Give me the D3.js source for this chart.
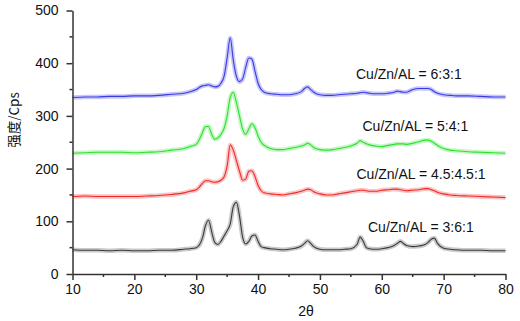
<!DOCTYPE html>
<html>
<head>
<meta charset="utf-8">
<script src="https://cdn.jsdelivr.net/npm/d3@7"></script>
<style>
  body { margin: 0; background: #fff; }
  text { font-family: "Liberation Sans", Arial, sans-serif; fill: #111; }
</style>
</head>
<body>
<div id="chart"></div>
<script>
// 2theta positions (degrees), shared by all four patterns
const twoTheta = [10,12,14,16,18,20,22,24,26,28,29,30,30.5,31,31.5,32,32.5,33,33.5,34,34.5,35,35.5,36,36.5,37,37.5,38,38.5,39,39.5,40,40.5,41,42,43,44,45,46,47,47.5,48,48.5,49,50,51,52,53,54,55,56,56.5,57,57.5,58,59,60,61,62,62.5,63,63.5,64,65,66,67,67.5,68,68.5,69,70,71,72,74,76,78,80];

// intensities (Cps)
const cps361 = [46,45,45,44,45,44,44,45,45,47,48,50,55,68,92,102,80,60,56,62,72,82,95,128,136,110,70,57,62,72,74,62,52,50,48,47,46,47,49,53,58,63,58,52,47,46,46,46,47,48,56,70,62,50,48,47,48,50,54,58,62,58,54,52,53,56,60,66,68,58,49,47,46,45,45,44,44];
const cps451 = [147,148,147,147,147,147,148,149,151,154,157,160,165,172,177,177,175,174,175,178,184,205,245,235,215,195,178,180,195,196,185,168,158,154,152,151,150,152,154,157,159,161,160,156,152,150,150,152,154,156,158,159,159,158,157,157,159,160,161,161,160,159,158,159,160,162,162,160,158,155,152,150,149,148,147,146,145];
const cps541 = [229,230,231,231,231,230,231,232,235,238,242,246,255,268,280,280,265,256,258,265,276,300,335,345,325,300,275,265,275,285,278,262,250,244,238,236,236,238,240,243,245,248,245,240,236,235,236,238,240,243,248,253,250,247,245,243,242,244,246,247,247,247,246,248,251,254,254,252,248,244,238,235,234,232,231,230,229];
const cps631 = [335,336,336,337,337,338,338,339,341,343,346,350,354,357,358,359,357,355,356,362,375,410,448,405,375,365,370,392,410,408,385,362,350,345,342,341,340,340,342,346,352,355,350,345,340,339,339,340,341,342,343,344,345,344,343,342,342,343,345,347,346,345,345,350,352,352,352,350,346,343,340,339,338,338,337,336,336];

const seriesNames = ["Cu/Zn/AL = 3:6:1", "Cu/Zn/AL = 4.5:4.5:1", "Cu/Zn/AL = 5:4:1", "Cu/Zn/AL = 6:3:1"];
const seriesData = [cps361, cps451, cps541, cps631];
const seriesColors = ["#3c3c3c", "#f02a2a", "#2ee02e", "#3a3ae6"];

const xTicks = [10,20,30,40,50,60,70,80];
const yTicks = [0,100,200,300,400,500];

const width = 520, height = 321;

const svg = d3.select("#chart").append("svg")
    .attr("width", width)
    .attr("height", height);

const x = d3.scaleLinear().domain([10, 80]).range([72.5, 505.5]);
const y = d3.scaleLinear().domain([0, 500]).range([274, 10.5]);

// lines
const line = d3.line()
    .x(d => x(d[0]))
    .y(d => y(d[1]))
    .curve(d3.curveMonotoneX);

seriesData.forEach((vals, i) => {
    const pts = twoTheta.map((t, j) => [t, vals[j]]);
    // soft halo for the noisy look of the scan
    svg.append("path")
        .datum(pts)
        .attr("d", line)
        .attr("fill", "none")
        .attr("stroke", seriesColors[i])
        .attr("stroke-width", 4.5)
        .attr("stroke-opacity", 0.28)
        .attr("stroke-linejoin", "round");
    svg.append("path")
        .datum(pts)
        .attr("d", line)
        .attr("fill", "none")
        .attr("stroke", seriesColors[i])
        .attr("stroke-width", 1.1)
        .attr("stroke-linejoin", "round");
});

// axes
const xAxis = svg.append("g")
    .attr("transform", "translate(0," + y(0) + ")")
    .call(d3.axisBottom(x).tickValues(xTicks).tickSize(6).tickPadding(4).tickSizeOuter(0));
xAxis.append("g").selectAll("line")
    .data(d3.range(15, 80, 10))
    .enter().append("line")
    .attr("x1", d => x(d)).attr("x2", d => x(d))
    .attr("y1", 0).attr("y2", 3);

const yAxis = svg.append("g")
    .attr("transform", "translate(" + x(10) + ",0)")
    .call(d3.axisLeft(y).tickValues(yTicks).tickSize(6).tickPadding(8).tickSizeOuter(0));
yAxis.append("g").selectAll("line")
    .data(d3.range(50, 500, 100))
    .enter().append("line")
    .attr("y1", d => y(d)).attr("y2", d => y(d))
    .attr("x1", 0).attr("x2", -3);

[xAxis, yAxis].forEach(a => {
    a.selectAll("path, line").attr("stroke", "#333").attr("stroke-width", 1.5);
    a.selectAll("text").style("font-size", "14px").attr("fill", "#111");
    a.select(".domain").attr("stroke", "#333");
});

// axis titles
svg.append("text")
    .attr("x", 306)
    .attr("y", 316)
    .attr("text-anchor", "middle")
    .style("font-size", "14px")
    .text("2θ");

svg.append("text")
    .attr("transform", "translate(19,120) rotate(-90)")
    .attr("text-anchor", "middle")
    .style("font-family", "'Noto Sans CJK SC', 'Liberation Sans', sans-serif")
    .style("font-size", "13.5px")
    .text("强度/Cps");

// series labels
const labelPos = [[368, 232], [356.5, 179], [362.5, 131], [356, 78.5]];
seriesNames.forEach((name, i) => {
    svg.append("text")
        .attr("x", labelPos[i][0])
        .attr("y", labelPos[i][1])
        .style("font-size", "14px")
        .text(name);
});
</script>
</body>
</html>
